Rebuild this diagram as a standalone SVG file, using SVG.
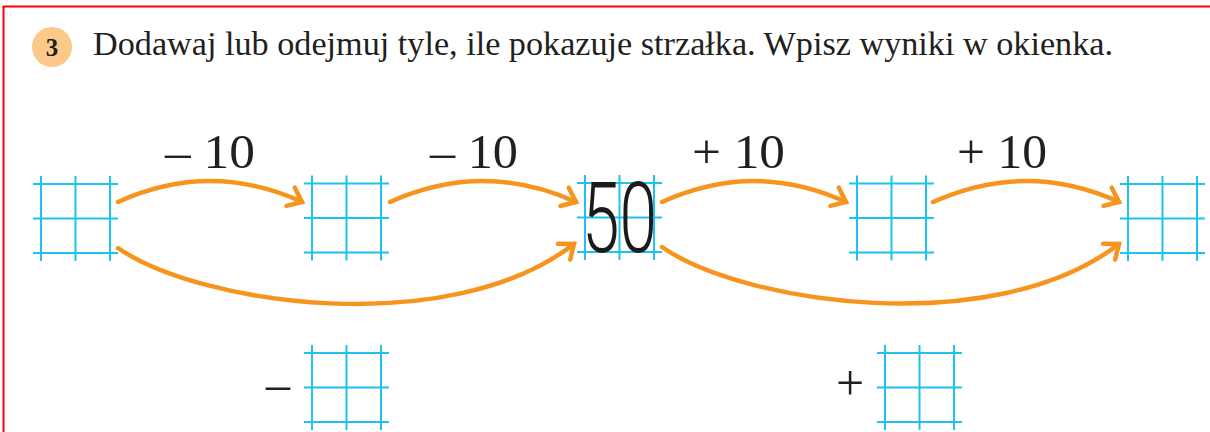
<svg xmlns="http://www.w3.org/2000/svg" width="1210" height="432" viewBox="0 0 1210 432">
  <style>
    .grid line { stroke: #1fc1f2; stroke-width: 2; }
    .arrow { fill: none; stroke: #f7941e; stroke-width: 4.5; stroke-linecap: round; }
    .lbl { font-family: "Liberation Serif", "Times New Roman", serif; font-size: 48px; fill: #231f20; }
    .title { font-family: "Liberation Serif", "Times New Roman", serif; font-size: 34px; fill: #231f20; }
    .sign { font-family: "Liberation Serif", "Times New Roman", serif; font-size: 50px; fill: #231f20; }
  </style>
  <defs>
    <g id="grid" class="grid">
      <line x1="-8" y1="0" x2="77" y2="0"/>
      <line x1="-8" y1="34.5" x2="77" y2="34.5"/>
      <line x1="-8" y1="69" x2="77" y2="69"/>
      <line x1="0" y1="-8" x2="0" y2="77"/>
      <line x1="34.5" y1="-8" x2="34.5" y2="77"/>
      <line x1="69" y1="-8" x2="69" y2="77"/>
    </g>
    <marker id="head" markerUnits="userSpaceOnUse" markerWidth="40" markerHeight="40" refX="0" refY="0" viewBox="-20 -20 40 40" orient="auto" overflow="visible">
      <path d="M-12.5,-10 L0,0 L-12.5,10" fill="none" stroke="#f7941e" stroke-width="4.5" stroke-linecap="round" stroke-linejoin="miter"/>
    </marker>
  </defs>

  <!-- frame -->
  <path d="M3.5,432 L3.5,6.5 L1210,6.5" fill="none" stroke="#ff0000" stroke-width="2"/>

  <!-- header -->
  <g id="header">
    <circle cx="52" cy="47" r="20" fill="#fcc98b"/>
    <text x="52" y="56" text-anchor="middle" font-family="Liberation Serif, serif" font-weight="bold" font-size="25" fill="#231f20">3</text>
    <text class="title" x="93" y="55" textLength="1020" lengthAdjust="spacingAndGlyphs">Dodawaj lub odejmuj tyle, ile pokazuje strzałka. Wpisz wyniki w okienka.</text>
  </g>

  <!-- nodes -->
  <g id="box1"><use href="#grid" transform="translate(41,184)"/></g>
  <g id="box2"><use href="#grid" transform="translate(312,183.5)"/></g>
  <g id="box3">
    <use href="#grid" transform="translate(585,183)"/>
    <text x="582" y="252" font-family="Roboto, sans-serif" font-weight="300" font-size="98" textLength="75" lengthAdjust="spacingAndGlyphs" fill="#1a1a1a">50</text>
  </g>
  <g id="box4"><use href="#grid" transform="translate(857,183.5)"/></g>
  <g id="box5"><use href="#grid" transform="translate(1128,184)"/></g>
  <g id="box6">
    <text class="sign" x="266" y="401" textLength="24" lengthAdjust="spacingAndGlyphs">–</text>
    <use href="#grid" transform="translate(312,353)"/>
  </g>
  <g id="box7">
    <text class="sign" x="850" y="400" text-anchor="middle">+</text>
    <use href="#grid" transform="translate(885,353)"/>
  </g>

  <!-- connectors -->
  <g id="connectors">
    <path class="arrow" marker-end="url(#head)" d="M118,202 Q210,160 302,202"/>
    <path class="arrow" marker-end="url(#head)" d="M390,202 Q483,160 576,202"/>
    <path class="arrow" marker-end="url(#head)" d="M662,202 Q755,160 846,202"/>
    <path class="arrow" marker-end="url(#head)" d="M933,202 Q1027,160 1119,202"/>
    <path class="arrow" marker-end="url(#head)" d="M118,248 C200,305 450,340 574,244"/>
    <path class="arrow" marker-end="url(#head)" d="M662,247 C744,304 994,340 1119,244"/>
    <text class="lbl" x="165" y="168" textLength="90" lengthAdjust="spacingAndGlyphs">– 10</text>
    <text class="lbl" x="430" y="168" textLength="88" lengthAdjust="spacingAndGlyphs">– 10</text>
    <text class="lbl" x="692" y="168" textLength="93" lengthAdjust="spacingAndGlyphs">+ 10</text>
    <text class="lbl" x="957" y="168" textLength="90" lengthAdjust="spacingAndGlyphs">+ 10</text>
  </g>
</svg>
